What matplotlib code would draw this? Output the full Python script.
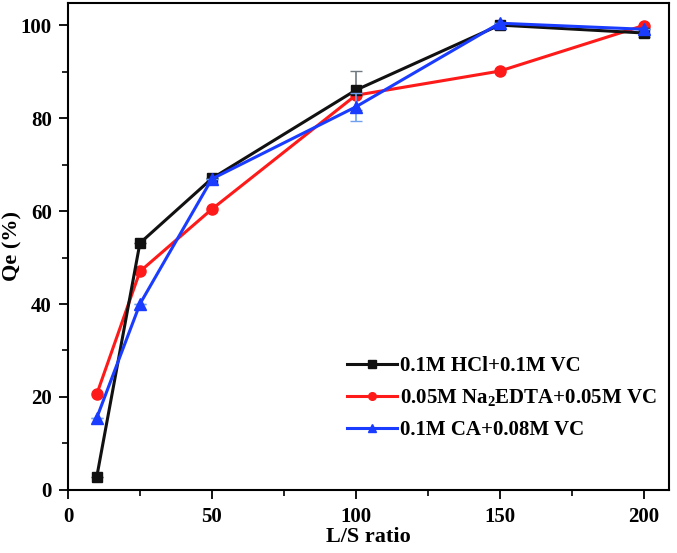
import matplotlib.pyplot as plt
from matplotlib.lines import Line2D
from matplotlib.ticker import MultipleLocator

plt.rcParams['font.family'] = ['Liberation Serif', 'DejaVu Serif']
plt.rcParams['font.weight'] = 'bold'
plt.rcParams['mathtext.default'] = 'regular'

ratio = [10, 25, 50, 100, 150, 200]
hcl = [2.8, 53.1, 67.0, 86.0, 100.0, 98.3]
hcl_err = [0, 0, 0, 4.2, 0, 0.8]
edta = [20.6, 47.0, 60.4, 84.9, 90.1, 99.9]
ca = [15.5, 40.0, 66.9, 82.4, 100.4, 99.1]
ca_err = [0, 0, 0, 3.0, 0, 0]

labels = ["0.1M HCl+0.1M VC",
          "0.05M Na$_2$EDTA+0.05M VC",
          "0.1M CA+0.08M VC"]
colors = ["#111111", "#ff1a1a", "#1a3cff"]
markers = ["s", "o", "^"]

fig = plt.figure(figsize=(6.77, 5.53), dpi=100)
ax = fig.add_axes([0.1004, 0.114, 0.888, 0.881])

ax.errorbar(ratio, hcl, yerr=hcl_err, color=colors[0], ecolor="#707880",
            marker="s", markersize=6.5, linewidth=2.2, capsize=4, elinewidth=1.2,
            zorder=3)
ax.plot(ratio, edta, color=colors[1], marker="o", markersize=8, linewidth=2.2,
        zorder=3)
ax.errorbar(ratio, ca, yerr=ca_err, color=colors[2], ecolor="#6fa0f0",
            marker="^", markersize=8, linewidth=2.2, capsize=4, elinewidth=1.2,
            zorder=4)

ax.set_xlim(0, 208.9)
ax.set_ylim(0, 104.8)
ax.xaxis.set_major_locator(MultipleLocator(50))
ax.xaxis.set_minor_locator(MultipleLocator(25))
ax.yaxis.set_major_locator(MultipleLocator(20))
ax.yaxis.set_minor_locator(MultipleLocator(10))
ax.tick_params(which="major", direction="out", length=6.5, width=1.3,
               labelsize=15, pad=5)
ax.tick_params(axis="x", which="major", pad=6)
ax.tick_params(which="minor", direction="out", length=4, width=1.2)
for s in ax.spines.values():
    s.set_linewidth(1.5)

ax.set_xlabel("L/S ratio", fontsize=16, fontweight="bold", labelpad=0)
ax.set_ylabel("Qe (%)", fontsize=16, fontweight="bold", va="center")
ax.yaxis.set_label_coords(-0.0915, 0.5)

handles = [Line2D([], [], color=c, marker=m, markersize=5.5, linewidth=2.2)
           for c, m in zip(colors, markers)]
ax.legend(handles, labels, loc="center left", bbox_to_anchor=(0.464, 0.189),
          frameon=False, fontsize=15, handlelength=2.4, handletextpad=0.15,
          labelspacing=0.55, borderpad=0, borderaxespad=0)

fig.savefig("out.png", dpi=100)
